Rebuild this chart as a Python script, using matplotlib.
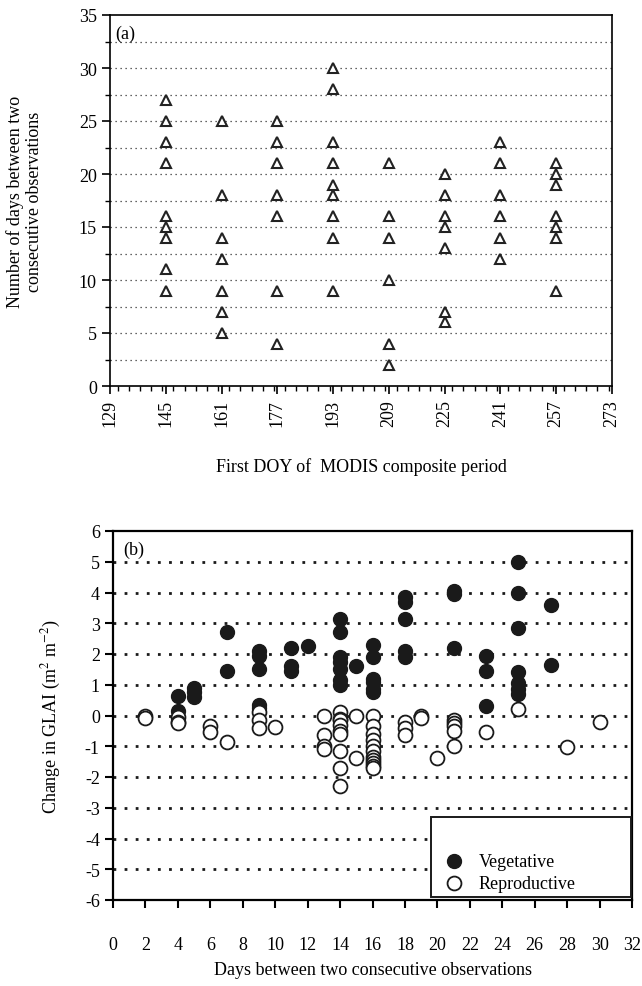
import matplotlib
matplotlib.use("Agg")
import matplotlib.pyplot as plt
from matplotlib.patches import Rectangle
from matplotlib.ticker import MultipleLocator

plt.rcParams["font.family"] = ["Liberation Serif", "DejaVu Serif"]
plt.rcParams["mathtext.fontset"] = "stix"
plt.rcParams["axes.unicode_minus"] = False

# (a) days between observations, by first DOY of the MODIS composite
doy = [145, 161, 177, 193, 209, 225, 241, 257]
days_by_doy = [
    [27, 25, 23, 21, 16, 15, 14, 11, 9],
    [25, 18, 14, 12, 9, 7, 5],
    [25, 23, 21, 18, 16, 9, 4],
    [30, 28, 23, 21, 19, 18, 16, 14, 9],
    [21, 16, 14, 10, 4, 2],
    [20, 18, 16, 15, 13, 7, 6],
    [23, 21, 18, 16, 14, 12],
    [21, 20, 19, 16, 15, 14, 9],
]
doy_ticks = [129, 145, 161, 177, 193, 209, 225, 241, 257, 273]

# (b) change in GLAI vs days between observations
veg_days = [4, 4, 5, 5, 5, 7, 7, 9, 9, 9, 9, 9, 11, 11, 11, 12,
            14, 14, 14, 14, 14, 14, 14, 15, 16, 16, 16, 16, 16, 16,
            18, 18, 18, 18, 18, 21, 21, 21, 23, 23, 23,
            25, 25, 25, 25, 25, 25, 25, 27, 27]
veg_dglai = [0.65, 0.15, 0.9, 0.75, 0.6, 2.7, 1.45, 2.1, 1.95, 1.5, 0.35, 0.25,
             2.2, 1.6, 1.45, 2.25,
             3.15, 2.7, 1.9, 1.75, 1.5, 1.15, 1.0, 1.6,
             2.3, 1.9, 1.2, 1.1, 0.85, 0.75,
             3.85, 3.7, 3.15, 2.1, 1.9, 4.05, 3.95, 2.2, 1.95, 1.45, 0.3,
             5.0, 4.0, 2.85, 1.4, 1.05, 0.85, 0.7, 3.6, 1.65]

rep_days = [2, 2, 4, 4, 4, 6, 6, 7, 9, 9, 9, 10, 13, 13, 13, 13,
            14, 14, 14, 14, 14, 14, 14, 14, 14, 15, 15,
            16, 16, 16, 16, 16, 16, 16, 16, 16, 16, 16,
            18, 18, 18, 19, 19, 20, 21, 21, 21, 21, 21, 23, 25, 28, 30]
rep_dglai = [0.0, -0.08, -0.05, -0.2, -0.25, -0.35, -0.55, -0.85,
             0.1, -0.15, -0.4, -0.38, 0.0, -0.65, -1.0, -1.1,
             0.1, -0.1, -0.15, -0.3, -0.5, -0.6, -1.15, -1.7, -2.3, 0.0, -1.38,
             0.0, -0.35, -0.6, -0.8, -1.0, -1.15, -1.35, -1.45, -1.55, -1.65, -1.72,
             -0.2, -0.4, -0.65, 0.0, -0.08, -1.38, -0.15, -0.25, -0.35, -0.5, -1.0,
             -0.55, 0.2, -1.02, -0.22]

fig = plt.figure(figsize=(6.42, 9.87), dpi=100)
W, H = 642.0, 987.0

# ---- panel (a) ----
ax1 = fig.add_axes([110 / W, 1 - 387 / H, 502 / W, 371 / H])
for x, ys in zip(doy, days_by_doy):
    ax1.plot([x] * len(ys), ys, linestyle="none", marker="^", markersize=7.5,
             markerfacecolor="white", markeredgecolor="#222222", markeredgewidth=1.5,
             zorder=3)
ax1.set_xlim(129, 273)
ax1.set_ylim(0, 35)
ax1.set_xticks(doy_ticks)
ax1.set_xticklabels([str(t) for t in doy_ticks], rotation=90)
ax1.xaxis.set_minor_locator(MultipleLocator(3.2))
ax1.yaxis.set_major_locator(MultipleLocator(5))
ax1.yaxis.set_minor_locator(MultipleLocator(2.5))
for g in [2.5 * k for k in range(1, 14)]:
    ax1.axhline(g, color="#333333", linestyle=(0, (1, 3)), linewidth=0.9, zorder=1)
ax1.tick_params(which="major", direction="out", length=6, width=1.2, labelsize=13)
ax1.tick_params(which="minor", direction="out", length=3.5, width=1.0)
for s in ax1.spines.values():
    s.set_linewidth(1.2)
ax1.set_ylabel("Number of days between two\nconsecutive observations", fontsize=13,
               linespacing=1.1, labelpad=26)
ax1.set_xlabel("First DOY of  MODIS composite period", fontsize=13, labelpad=22)
ax1.text(0.01, 0.975, "(a)", transform=ax1.transAxes, fontsize=13, va="top")

# ---- panel (b) ----
ax2 = fig.add_axes([113 / W, 1 - 901 / H, 519 / W, 369 / H])
ax2.scatter(veg_days, veg_dglai, s=100, c="#1a1a1a", edgecolors="#1a1a1a",
            linewidths=1.0, zorder=3, label="Vegetative")
ax2.scatter(rep_days, rep_dglai, s=100, facecolors="white", edgecolors="#1a1a1a",
            linewidths=1.3, zorder=4, label="Reproductive")
ax2.set_xlim(0, 32)
ax2.set_ylim(-6, 6)
ax2.xaxis.set_major_locator(MultipleLocator(2))
ax2.yaxis.set_major_locator(MultipleLocator(1))
for g in range(-5, 6):
    ax2.axhline(g, color="#1a1a1a", linestyle=(0, (1, 3)), linewidth=2.0, zorder=1)
ax2.tick_params(direction="out", length=6, width=1.5, labelsize=13)
ax2.tick_params(axis="x", pad=20)
for s in ax2.spines.values():
    s.set_linewidth(1.6)
ax2.set_ylabel("Change in GLAI (m$^{2}$ m$^{-2}$)", fontsize=13, labelpad=16)
ax2.set_xlabel("Days between two consecutive observations", fontsize=13, labelpad=6)
ax2.text(0.02, 0.975, "(b)", transform=ax2.transAxes, fontsize=13, va="top")

# legend box is larger than its contents in the original
ax2.add_patch(Rectangle((0.613, 0.008), 0.385, 0.217, transform=ax2.transAxes,
                        facecolor="white", edgecolor="#1a1a1a", linewidth=1.4,
                        zorder=5))
leg = ax2.legend(loc="center left", bbox_to_anchor=(0.625, 0.075), frameon=False,
                 fontsize=13, handletextpad=0.9, labelspacing=0.25,
                 borderaxespad=0, handlelength=1.0)
leg.set_zorder(6)

fig.savefig("out.png", dpi=100)
